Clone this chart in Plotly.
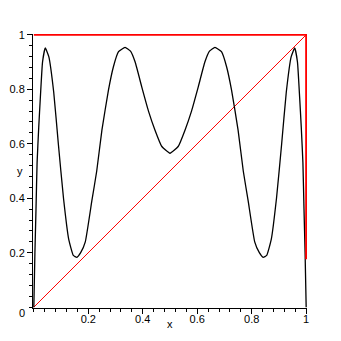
import plotly.graph_objects as go

# black curve
curve_x = [0, 0.004, 0.008, 0.012, 0.018, 0.024, 0.032, 0.042, 0.055, 0.073, 0.09, 0.109, 0.128,
           0.145, 0.158, 0.172, 0.189, 0.213, 0.231, 0.25, 0.274, 0.292, 0.311, 0.335, 0.355,
           0.372, 0.396, 0.421, 0.445, 0.47, 0.5,
           0.53, 0.555, 0.579, 0.604, 0.628, 0.645, 0.665, 0.689, 0.708, 0.726, 0.75, 0.769,
           0.787, 0.811, 0.828, 0.842, 0.855, 0.872, 0.891, 0.91, 0.927, 0.945, 0.958, 0.968,
           0.976, 0.982, 0.988, 0.992, 0.996, 1.0]
curve_y = [0, 0.2, 0.36, 0.53, 0.66, 0.77, 0.9, 0.952, 0.92, 0.79, 0.60, 0.40, 0.25,
           0.19, 0.183, 0.2, 0.24, 0.39, 0.50, 0.65, 0.797, 0.882, 0.938, 0.954, 0.94,
           0.90, 0.81, 0.72, 0.65, 0.59, 0.565,
           0.59, 0.65, 0.72, 0.81, 0.90, 0.94, 0.954, 0.938, 0.882, 0.797, 0.65, 0.50,
           0.39, 0.24, 0.2, 0.183, 0.19, 0.25, 0.40, 0.60, 0.79, 0.92, 0.952, 0.9,
           0.77, 0.66, 0.53, 0.36, 0.2, 0]

# red lines
cob_x = [0, 1, 1]
cob_y = [1, 1, 0.176]
diag_x = [0, 1]
diag_y = [0, 1]

y_ticks = [0.2, 0.4, 0.6, 0.8, 1]
y_labels = ["0.2", "0.4", "0.6", "0.8", "1"]
x_ticks = [0.2, 0.4, 0.6, 0.8, 1]
x_labels = ["0.2", "0.4", "0.6", "0.8", "1"]

PAD = 0.003
x_rng = [0 - PAD, 1 + PAD]
y_rng = [0 - PAD, 1 + PAD]

fig = go.Figure()
fig.add_trace(go.Scatter(x=diag_x, y=diag_y, mode="lines",
                         line=dict(color="#ff0000", width=1)))
fig.add_trace(go.Scatter(x=curve_x, y=curve_y, mode="lines",
                         line=dict(color="black", width=1.3, shape="spline", smoothing=0.4)))
fig.add_trace(go.Scatter(x=cob_x, y=cob_y, mode="lines",
                         line=dict(color="#ff0000", width=2)))

font = dict(family="Liberation Sans, Arial, sans-serif", size=11, color="black")

# data 0 -> px 33.5, data 1 -> px 306.5 ; y: 1 -> 34.7, 0 -> 307
sx = 273.0
sy = 272.3
ml = 33.5 - PAD * sx
mr = 341 - (306.5 + PAD * sx)
mt = 34.7 - PAD * sy
mb = 341 - (307 + PAD * sy)

fig.update_layout(
    width=341, height=341,
    margin=dict(l=ml, r=mr, t=mt, b=mb, autoexpand=False),
    paper_bgcolor="white", plot_bgcolor="white",
    showlegend=False,
    font=font,
    xaxis=dict(range=x_rng, showgrid=False, zeroline=False, showline=True,
               linecolor="black", linewidth=1, ticks="outside", ticklen=5,
               tickcolor="black", tickvals=x_ticks, ticktext=x_labels,
               minor=dict(ticks="outside", ticklen=3, dtick=0.04, tick0=0,
                          tickcolor="black", showgrid=False),
               automargin=False, ticklabelstandoff=-4),
    yaxis=dict(range=y_rng, showgrid=False, zeroline=False, showline=True,
               linecolor="black", linewidth=1, ticks="outside", ticklen=5,
               tickcolor="black", tickvals=y_ticks, ticktext=y_labels,
               minor=dict(ticks="outside", ticklen=3, dtick=0.04, tick0=0,
                          tickcolor="black", showgrid=False),
               automargin=False, ticklabelstandoff=0),
    annotations=[
        dict(text="0", x=0, y=0, xref="paper", yref="paper", xanchor="right",
             yanchor="middle", xshift=-6, yshift=-5, showarrow=False, font=font),
        dict(text="y", x=0, y=0.5, xref="paper", yref="paper", xanchor="center",
             yanchor="middle", xshift=-13.5, yshift=0, showarrow=False, font=font),
        dict(text="x", x=0.5, y=0, xref="paper", yref="paper", xanchor="center",
             yanchor="middle", xshift=0, yshift=-16, showarrow=False, font=font),
    ],
)
fig.write_html("out.html")
